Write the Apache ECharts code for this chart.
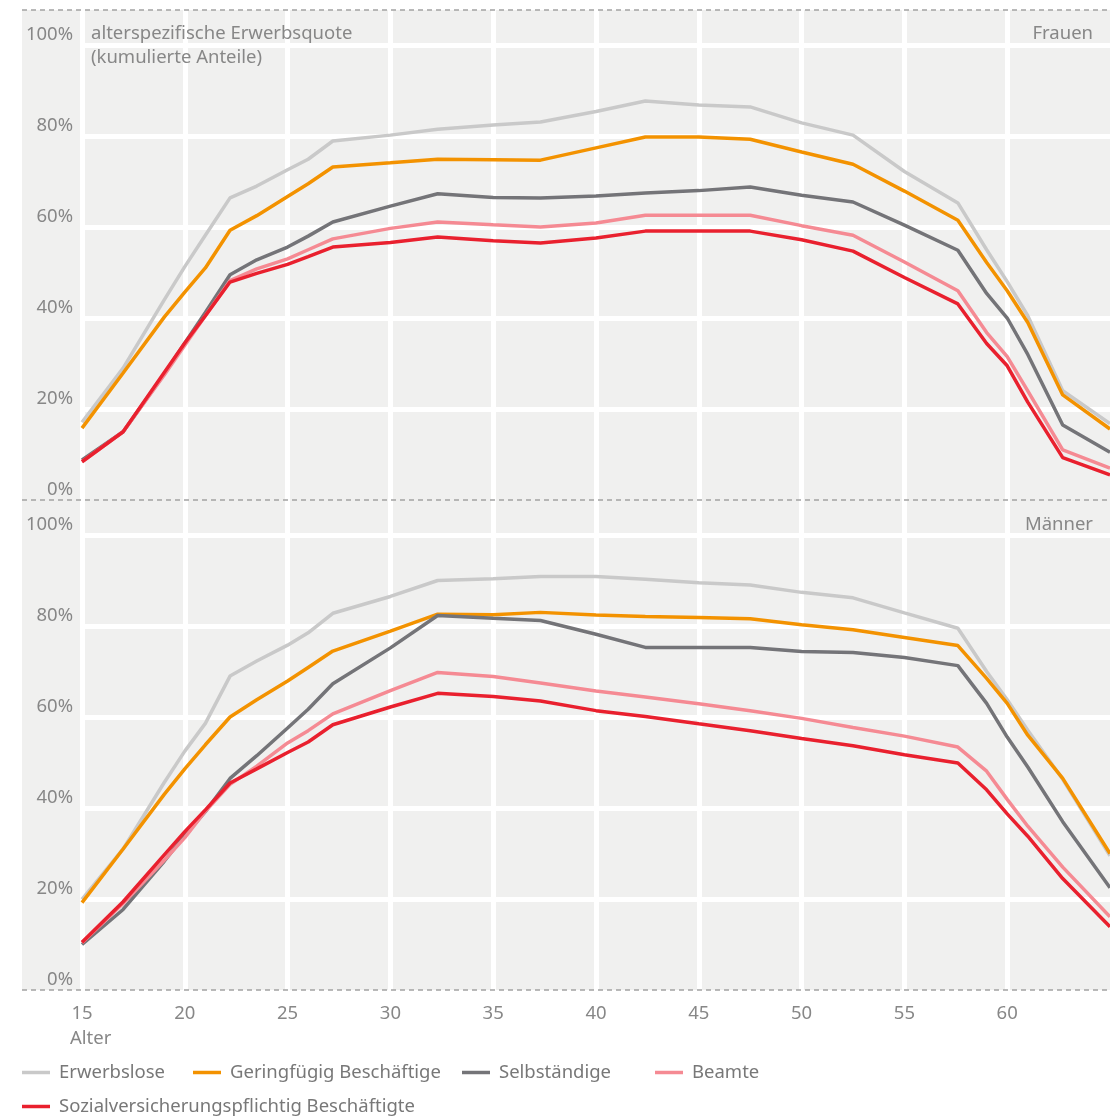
<!DOCTYPE html>
<html lang="de">
<head>
<meta charset="utf-8">
<title>Alterspezifische Erwerbsquote</title>
<script src="https://cdn.jsdelivr.net/npm/echarts@6/dist/echarts.min.js"></script>
<style>
  html, body { margin: 0; padding: 0; background: #fff; }
  #chart { width: 1110px; height: 1117px; }
</style>
</head>
<body>
<div id="chart"></div>
<script>
// Alter (x-Werte), gemeinsam für alle Linien
const AGES = [15, 17, 19, 20, 21, 22.2, 23.5, 25, 26, 27.2, 30, 32.3, 35, 37.3, 40, 42.4, 45, 47.5, 50, 52.5, 55, 57.6, 59, 60, 61, 62.7, 65];

const SERIES_NAMES = [
  "Erwerbslose",
  "Geringfügig Beschäftige",
  "Selbständige",
  "Beamte",
  "Sozialversicherungspflichtig Beschäftigte",
];
const SERIES_COLORS = ["#c9c9c9", "#f39200", "#747478", "#f58a93", "#e9202e"];

const X_TICKS = [15, 20, 25, 30, 35, 40, 45, 50, 55, 60];
const Y_TICKS = [0, 20, 40, 60, 80, 100];

// Frauen, kumulierte Anteile in %
const FRAUEN_ERWERBSLOSE = [17.1, 29, 44, 51.3, 58.2, 66.4, 69, 72.6, 74.9, 78.9, 80.2, 81.5, 82.4, 83.1, 85.4, 87.7, 86.8, 86.4, 82.9, 80.2, 72.2, 65.3, 55, 48, 40.5, 24, 16.8];
const FRAUEN_GERINGFUEGIG = [15.8, 27.9, 40.2, 45.7, 51, 59.3, 62.5, 66.7, 69.5, 73.2, 74.1, 74.9, 74.8, 74.7, 77.4, 79.8, 79.8, 79.3, 76.5, 73.8, 67.9, 61.5, 52.2, 46, 39, 23.1, 15.6];
const FRAUEN_SELBSTAENDIGE = [8.8, 15, 27.7, 34.5, 41.2, 49.5, 52.8, 55.6, 58, 61.1, 64.6, 67.3, 66.5, 66.4, 66.8, 67.5, 68, 68.8, 67, 65.5, 60.4, 54.9, 45.4, 40, 32, 16.5, 10.5];
const FRAUEN_BEAMTE = [8.4, 15, 27.5, 34, 40.5, 48.2, 50.8, 53, 55, 57.4, 59.7, 61.1, 60.5, 60, 60.9, 62.6, 62.6, 62.6, 60.3, 58.2, 52.3, 46, 36.8, 31.5, 24, 11, 7];
const FRAUEN_SOZIALV = [8.4, 15, 28, 34.5, 40.5, 47.9, 49.8, 51.8, 53.5, 55.6, 56.6, 57.8, 57, 56.5, 57.6, 59.1, 59.1, 59.1, 57.2, 54.7, 48.9, 43.1, 34.4, 29.5, 21.5, 9.3, 5.5];

// Männer, kumulierte Anteile in %
const MAENNER_ERWERBSLOSE = [19.9, 31, 45.6, 52.5, 58.6, 69, 72.3, 75.8, 78.5, 82.8, 86.5, 90, 90.4, 90.9, 90.9, 90.3, 89.5, 89, 87.4, 86.2, 82.9, 79.5, 70, 63.8, 57.1, 46.3, 29.5];
const MAENNER_GERINGFUEGIG = [19.2, 31, 43, 48.6, 53.9, 60, 63.8, 67.9, 70.9, 74.5, 78.9, 82.6, 82.5, 83, 82.4, 82.1, 81.9, 81.6, 80.3, 79.2, 77.5, 75.7, 68.5, 63, 56, 46.5, 30];
const MAENNER_SELBSTAENDIGE = [10, 17.7, 28.3, 34, 39.2, 46.5, 51.5, 57.6, 61.7, 67.3, 75.2, 82.3, 81.7, 81.2, 78.2, 75.3, 75.3, 75.3, 74.4, 74.2, 73.1, 71.3, 63, 55.6, 49, 37, 22.5];
const MAENNER_BEAMTE = [10.4, 19, 28.5, 33.5, 39.3, 45.2, 49.2, 54.3, 57, 60.7, 65.8, 69.8, 68.9, 67.5, 65.7, 64.4, 62.9, 61.4, 59.7, 57.7, 55.8, 53.4, 48.1, 41.9, 36, 27, 16.1];
const MAENNER_SOZIALV = [10.5, 19.4, 29.7, 34.8, 39.6, 45.5, 48.6, 52.2, 54.5, 58.3, 62.2, 65.2, 64.5, 63.5, 61.4, 60.1, 58.5, 57, 55.3, 53.7, 51.7, 49.9, 44, 38.7, 33.8, 24.5, 13.9];

const PANELS = [
  {
    label: "Frauen",
    values: [FRAUEN_ERWERBSLOSE, FRAUEN_GERINGFUEGIG, FRAUEN_SELBSTAENDIGE, FRAUEN_BEAMTE, FRAUEN_SOZIALV],
  },
  {
    label: "Männer",
    values: [MAENNER_ERWERBSLOSE, MAENNER_GERINGFUEGIG, MAENNER_SELBSTAENDIGE, MAENNER_BEAMTE, MAENNER_SOZIALV],
  },
];

const FONT = "'Noto Sans', 'DejaVu Sans', sans-serif";
const FONT_SIZE = 18.5;
const TEXT_COLOR = "#878787";
const PANEL_BG = "#f0f0ef";
const DASH_COLOR = "#a3a3a3";

const PANEL_TOP = 10;
const PANEL_HEIGHT = 490;
const PLOT_LEFT = 82;
const BG_LEFT = 22;
const Y_MAX = 107.7;

const grids = PANELS.map((_, p) => ({
  left: PLOT_LEFT,
  right: 0,
  top: PANEL_TOP + p * PANEL_HEIGHT,
  height: PANEL_HEIGHT,
}));

const xAxes = PANELS.map((_, p) => ({
  gridIndex: p,
  type: "value",
  min: X_TICKS[0],
  max: 65,
  interval: 5,
  axisLine: { show: false },
  axisTick: { show: false },
  splitLine: {
    show: true,
    showMinLine: true,
    showMaxLine: false,
    lineStyle: { color: "#fff", width: 5 },
  },
  axisLabel: {
    show: p === PANELS.length - 1,
    showMaxLabel: false,
    formatter: (v) => (X_TICKS.includes(v) ? String(v) : ""),
    margin: 14,
    fontSize: FONT_SIZE,
    fontFamily: FONT,
    color: TEXT_COLOR,
  },
}));

const yAxes = PANELS.map((_, p) => ({
  gridIndex: p,
  type: "value",
  min: Y_TICKS[0],
  max: Y_MAX,
  interval: 20,
  axisLine: { show: false },
  axisTick: { show: false },
  splitLine: {
    show: true,
    showMinLine: false,
    showMaxLine: false,
    lineStyle: { color: "#fff", width: 5 },
  },
  axisLabel: {
    showMaxLabel: false,
    formatter: (v) => (Y_TICKS.includes(v) ? v + "%" : ""),
    verticalAlign: "bottom",
    padding: [0, 0, 1, 0],
    margin: 9,
    fontSize: FONT_SIZE,
    fontFamily: FONT,
    color: TEXT_COLOR,
  },
}));

const series = [];
PANELS.forEach((panel, p) => {
  panel.values.forEach((vals, i) => {
    series.push({
      name: SERIES_NAMES[i],
      type: "line",
      xAxisIndex: p,
      yAxisIndex: p,
      data: AGES.map((age, k) => [age, vals[k]]),
      symbol: "none",
      lineStyle: { width: 3.5, color: SERIES_COLORS[i] },
      itemStyle: { color: SERIES_COLORS[i] },
      emphasis: { disabled: true },
      z: 2 + i,
    });
  });
});

// legend placement follows the reference (two rows, uneven spacing)
const LEGEND_SLOTS = [
  { left: 22, top: 1063 },
  { left: 193, top: 1063 },
  { left: 462, top: 1063 },
  { left: 655, top: 1063 },
  { left: 22, top: 1097 },
];
const legends = SERIES_NAMES.map((name, i) => ({
  data: [name],
  left: LEGEND_SLOTS[i].left,
  top: LEGEND_SLOTS[i].top,
  padding: 0,
  icon: "rect",
  itemWidth: 28,
  itemHeight: 3.5,
  selectedMode: false,
  textStyle: {
    fontSize: FONT_SIZE,
    fontFamily: FONT,
    color: "#787878",
    padding: [0, 0, 0, 4],
  },
}));

const dashedLine = (y) => ({
  type: "line",
  shape: { x1: BG_LEFT, y1: y, x2: 1110, y2: y },
  style: { stroke: DASH_COLOR, lineWidth: 1.5, lineDash: [5, 4] },
  z: 20,
});

const label = (extra) => ({
  type: "text",
  z: 20,
  ...extra,
  style: { font: `${FONT_SIZE}px ${FONT}`, fill: TEXT_COLOR, lineHeight: 24, ...extra.style },
});

const graphics = [
  {
    type: "rect",
    shape: { x: BG_LEFT, y: PANEL_TOP, width: 1110 - BG_LEFT, height: PANEL_HEIGHT * 2 },
    style: { fill: PANEL_BG },
    z: -10,
  },
  dashedLine(PANEL_TOP),
  dashedLine(PANEL_TOP + PANEL_HEIGHT),
  dashedLine(PANEL_TOP + PANEL_HEIGHT * 2),
  label({ left: 91, top: 22, style: { text: "alterspezifische Erwerbsquote\n(kumulierte Anteile)" } }),
  label({ right: 17, top: 22, style: { text: PANELS[0].label } }),
  label({ right: 17, top: 513, style: { text: PANELS[1].label } }),
  label({ left: 70, top: 1027, style: { text: "Alter" } }),
];

const chart = echarts.init(document.getElementById("chart"));
chart.setOption({
  animation: false,
  backgroundColor: "#fff",
  grid: grids,
  xAxis: xAxes,
  yAxis: yAxes,
  legend: legends,
  graphic: { elements: graphics },
  series,
});
</script>
</body>
</html>
